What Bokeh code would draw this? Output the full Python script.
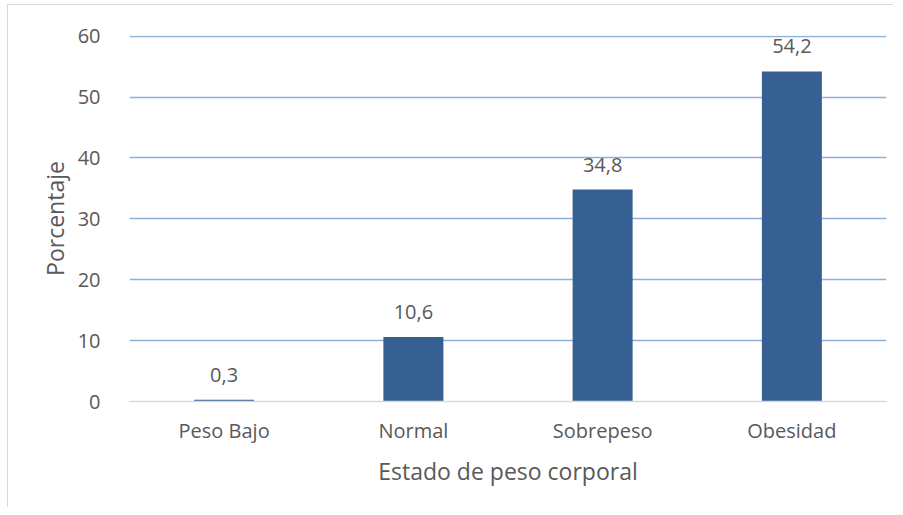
from bokeh.plotting import figure
from bokeh.models import ColumnDataSource, FixedTicker, LabelSet
from bokeh.core.properties import value
from bokeh.embed import file_html
from bokeh.resources import INLINE

categories = ["Peso Bajo", "Normal", "Sobrepeso", "Obesidad"]
values = [0.3, 10.6, 34.8, 54.2]
labels = ["0,3", "10,6", "34,8", "54,2"]
y_ticks = [0, 10, 20, 30, 40, 50, 60]

FONT = "Open Sans"
TXT = "#595959"

src = ColumnDataSource(dict(cat=categories, val=values, lab=labels))

p = figure(x_range=categories, y_range=(0, 60.1), width=886, height=503,
           output_backend="svg", toolbar_location=None,
           min_border_left=121, min_border_right=8, min_border_top=30, min_border_bottom=107)
p.styles = {"border-left": "1px solid #d9d9d9", "border-top": "1px solid #d9d9d9",
            "margin-left": "7px", "margin-top": "4px"}

p.vbar(x="cat", top="val", width=0.317, source=src, fill_color="#366092", line_color=None)

p.add_layout(LabelSet(x="cat", y="val", text="lab", source=src, text_align="center",
                      text_baseline="bottom", y_offset=18, text_font=value(FONT),
                      text_font_size="20px", text_color=TXT))

p.outline_line_color = None
p.background_fill_color = "white"
p.xgrid.grid_line_color = None
p.ygrid.grid_line_color = "#8eb0db"
p.ygrid.grid_line_width = 1.3
p.ygrid.ticker = FixedTicker(ticks=[10, 20, 30, 40, 50, 60])

p.yaxis.ticker = FixedTicker(ticks=y_ticks)
p.yaxis.axis_line_color = None
p.yaxis.major_tick_line_color = None
p.yaxis.minor_tick_line_color = None
p.yaxis.major_label_standoff = 23
p.yaxis.major_label_text_font = FONT
p.yaxis.major_label_text_font_size = "20px"
p.yaxis.major_label_text_color = TXT
p.yaxis.axis_label = "Porcentaje"
p.yaxis.axis_label_text_font = FONT
p.yaxis.axis_label_text_font_size = "23px"
p.yaxis.axis_label_text_font_style = "normal"
p.yaxis.axis_label_text_color = TXT
p.yaxis.axis_label_standoff = 4

p.xaxis.axis_line_color = "#d9d9d9"
p.xaxis.axis_line_width = 1.3
p.xaxis.major_tick_line_color = None
p.xaxis.minor_tick_line_color = None
p.xaxis.major_label_standoff = 9
p.xaxis.major_label_text_font = FONT
p.xaxis.major_label_text_font_size = "20px"
p.xaxis.major_label_text_color = TXT
p.xaxis.axis_label = "Estado de peso corporal"
p.xaxis.axis_label_text_font = FONT
p.xaxis.axis_label_text_font_size = "23px"
p.xaxis.axis_label_text_font_style = "normal"
p.xaxis.axis_label_text_color = TXT
p.xaxis.axis_label_standoff = 8

open("out.html", "w").write(file_html(p, INLINE))
